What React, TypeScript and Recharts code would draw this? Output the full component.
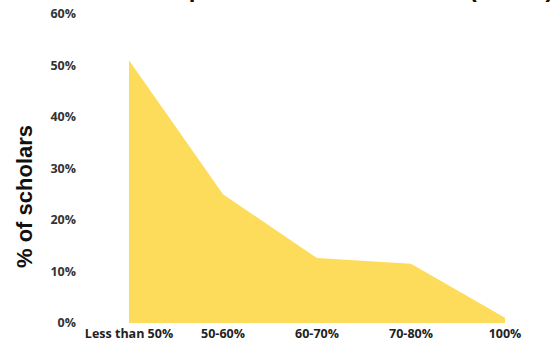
import React from 'react';
import { AreaChart, Area, XAxis, YAxis } from 'recharts';

// score bands and share of scholars (%)
const bands = ['Less than 50%', '50-60%', '60-70%', '70-80%', '100%'];
const shares = [51, 25, 12.6, 11.5, 1];
const yTicks = [0, 10, 20, 30, 40, 50, 60];

const chartData = bands.map((band, i) => ({ band, share: shares[i] }));

const tickFont = { fontFamily: '"Open Sans", sans-serif', fontWeight: 700, fontSize: 12.5 };

const YLabel = (props: any) => {
  const vb = props.viewBox || {};
  const x = (vb.x || 0) + 24;
  const y = (vb.y || 0) + (vb.height || 0) / 2 + 28;
  return (
    <text
      x={x}
      y={y}
      transform={`rotate(-90, ${x}, ${y})`}
      textAnchor="middle"
      dominantBaseline="central"
      style={{ fontFamily: '"Liberation Sans", Arial, sans-serif', fontWeight: 700, fontSize: 22, fill: '#111' }}
    >
      % of scholars
    </text>
  );
};

export default function App() {
  return (
    <div style={{ position: 'absolute', left: 0, top: 0, width: 552, height: 343, background: '#fff', overflow: 'hidden' }}>
      <div
        style={{
          position: 'absolute',
          left: 66,
          top: -23,
          whiteSpace: 'nowrap',
          fontFamily: '"Liberation Sans", Arial, sans-serif',
          fontWeight: 700,
          fontSize: 24,
          lineHeight: '24px',
          color: '#111',
        }}
      >
        Scholarship amount as a % of fees (n=305)
      </div>
      <AreaChart width={552} height={343} data={chartData} margin={{ top: 14, right: 47, bottom: 0, left: 0 }}>
        <XAxis
          dataKey="band"
          height={20}
          axisLine={false}
          tickLine={false}
          tickSize={0}
          tickMargin={6}
          interval={0}
          tick={{ ...tickFont, fill: '#222' }}
        />
        <YAxis
          width={129}
          domain={[0, 60]}
          ticks={yTicks}
          tickFormatter={(v: number) => `${v}%`}
          axisLine={false}
          tickLine={false}
          tickSize={0}
          tickMargin={53}
          tick={{ ...tickFont, fill: '#333' }}
          label={<YLabel />}
        />
        <Area
          type="linear"
          dataKey="share"
          stroke="none"
          fill="#FDDC5C"
          fillOpacity={1}
          isAnimationActive={false}
        />
      </AreaChart>
    </div>
  );
}
